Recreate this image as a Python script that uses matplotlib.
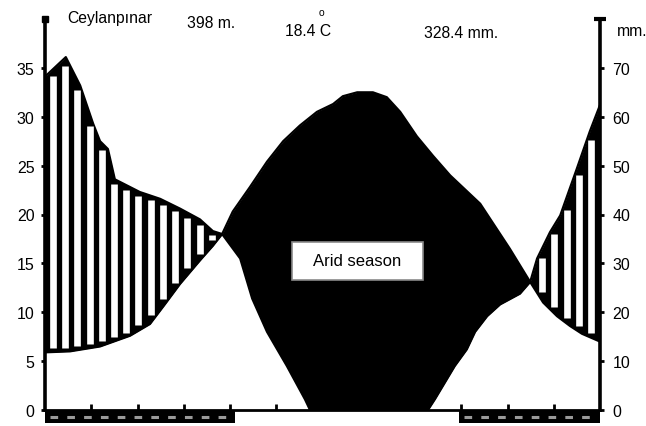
#!/usr/bin/env python3
# -*- coding: utf-8 -*-
# Walter-Lieth climate diagram, Ceylanpinar

import numpy as np
import matplotlib
matplotlib.use('Agg')
import matplotlib.pyplot as plt
from matplotlib.patches import Rectangle

plt.rcParams['font.family'] = ['Liberation Sans', 'DejaVu Sans']

station = 'Ceylanpınar'
altitude = '398 m.'
mean_temp = '18.4'
annual_prec = '328.4 mm.'

# temperature curve (position in months 0..12, degC)
temp_month = [0, 0.54, 1.19, 1.84, 2.27, 2.59, 2.92, 3.35, 3.63, 3.83,
              4.06, 4.43, 4.80, 5.15, 5.51, 5.88, 6.23, 6.44, 6.75, 7.09,
              7.39, 7.68, 8.04, 8.39, 8.76, 9.41, 10.05, 10.49, 10.77, 11.07,
              11.35, 11.61, 12]
temp_c = [5.9, 6.0, 6.5, 7.6, 8.8, 10.8, 12.9, 15.3, 16.8, 18.0,
          20.3, 22.8, 25.4, 27.5, 29.1, 30.5, 31.3, 32.1, 32.5, 32.5,
          32.0, 30.5, 28.0, 26.0, 24.0, 21.1, 16.5, 13.1, 11.0, 9.6,
          8.6, 7.8, 7.0]

# precipitation curve (position in months 0..12, mm)
prec_month = [0, 0.45, 0.76, 1.04, 1.19, 1.36, 1.51, 2.05, 2.49, 2.92,
              3.35, 3.63, 3.83, 4.22, 4.48, 4.80, 5.23, 5.62, 5.73, 8.28,
              8.43, 8.86, 9.12, 9.30, 9.56, 9.84, 10.27, 10.49, 10.64, 10.92,
              11.14, 11.29, 11.50, 11.78, 12]
prec_mm = [68.2, 72.2, 66.4, 58.6, 55.0, 53.4, 47.2, 44.6, 43.2, 41.2,
           39.0, 36.6, 36.0, 31.0, 22.8, 16.0, 9.0, 2.2, 0.0, 0.0,
           2.2, 9.0, 12.4, 16.0, 19.2, 21.6, 23.8, 26.2, 31.0, 36.4,
           39.8, 43.8, 49.4, 57.0, 62.4]

# months with frost (bar under the axis)
frost_start = [0, 8.95]
frost_end = [4.1, 12]


def main():
    fig = plt.figure(figsize=(6.46, 4.27), dpi=100)
    W, H = 646.0, 427.0
    ax = fig.add_axes([45 / W, 1 - 411 / H, 555 / W, 391 / H])
    ax.set_xlim(0, 12)
    ax.set_ylim(0, 40)

    xs = np.linspace(0, 12, 2401)
    t = np.interp(xs, temp_month, temp_c)
    p = np.interp(xs, prec_month, prec_mm) / 2.0

    # black everywhere between the curves, white stripes where humid
    ax.fill_between(xs, t, p, color='k', lw=0, zorder=2)
    ax.plot(temp_month, temp_c, color='k', lw=1.6, zorder=3)
    ax.plot(prec_month, np.array(prec_mm) / 2.0, color='k', lw=1.6, zorder=3)

    sx = np.arange(0.17, 12, 0.2645)
    hw = 0.07
    top = np.minimum(np.interp(sx - hw, prec_month, prec_mm),
                     np.interp(sx + hw, prec_month, prec_mm)) / 2.0 - 0.35
    bot = np.maximum(np.interp(sx - hw, temp_month, temp_c),
                     np.interp(sx + hw, temp_month, temp_c)) + 0.35
    ok = top > bot
    ax.vlines(sx[ok], bot[ok], top[ok], colors='w', lw=4.8, zorder=4)

    # frost bars
    for s, e in zip(frost_start, frost_end):
        ax.add_patch(Rectangle((s, -1.35), e - s, 1.2, facecolor='k',
                               lw=0, clip_on=False, zorder=5))
        ax.hlines(-0.75, s + 0.1, e - 0.1, colors='#9a9a9a', lw=2.2,
                  linestyles=(0, (2.5, 3)), clip_on=False, zorder=6)

    # axes styling
    for side in ['top', 'right']:
        ax.spines[side].set_visible(False)
    ax.spines['left'].set_linewidth(2.6)
    ax.spines['bottom'].set_linewidth(2.0)
    ax.spines['left'].set_zorder(7)
    ax.spines['bottom'].set_zorder(1)
    ax.set_yticks(np.arange(0, 40, 5))
    ax.tick_params(axis='y', direction='out', length=3, width=2,
                   pad=4.5, labelsize=11.5)
    ax.set_xticks(np.arange(1, 12))
    ax.set_xticklabels([])
    ax.tick_params(axis='x', direction='in', length=4, width=2)
    ax.plot([0], [40], marker='s', ms=5, color='k', clip_on=False, zorder=8)

    ax2 = ax.twinx()
    ax2.set_ylim(0, 80)
    for side in ['top', 'left', 'bottom']:
        ax2.spines[side].set_visible(False)
    ax2.spines['right'].set_linewidth(2.6)
    ax2.set_yticks(np.arange(0, 80, 10))
    ax2.tick_params(axis='y', direction='out', length=3, width=2,
                    pad=6, labelsize=11.5)
    ax2.plot([12], [80], marker='_', ms=8, mew=3, color='k', clip_on=False)

    # arid season label
    ax.add_patch(Rectangle((5.34, 13.3), 2.83, 3.9, facecolor='w',
                           edgecolor='#8a8a8a', lw=1.2, zorder=9))
    ax.text(6.755, 15.25, 'Arid season', ha='center', va='center',
            fontsize=12, zorder=10)

    # header
    fs = 11.3
    fig.text(67 / W, 1 - 19 / H, station, ha='left', va='center', fontsize=fs)
    fig.text(187 / W, 1 - 24 / H, altitude, ha='left', va='center', fontsize=fs)
    fig.text(285 / W, 1 - 32 / H, mean_temp + ' C', ha='left', va='center',
             fontsize=fs)
    fig.text(321 / W, 1 - 13 / H, 'o', ha='center', va='center', fontsize=7.5)
    fig.text(424 / W, 1 - 34 / H, annual_prec, ha='left', va='center',
             fontsize=fs)
    fig.text(617 / W, 1 - 32 / H, 'mm.', ha='left', va='center', fontsize=fs)

    fig.savefig('out.png', dpi=100)


if __name__ == '__main__':
    main()
